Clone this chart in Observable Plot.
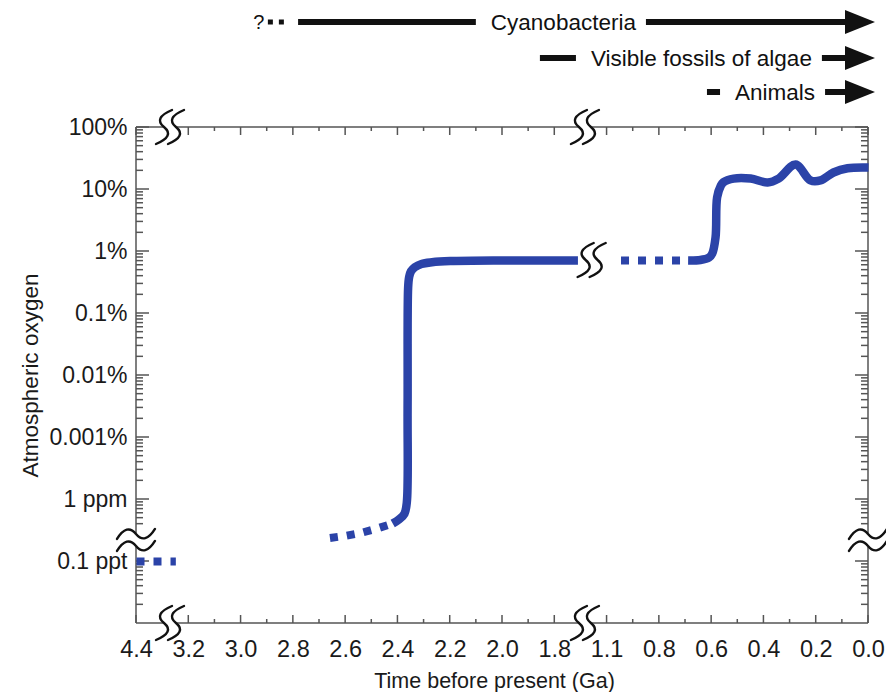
<!DOCTYPE html>
<html><head><meta charset="utf-8">
<script src="https://cdn.jsdelivr.net/npm/d3@7"></script>
<script src="https://cdn.jsdelivr.net/npm/@observablehq/plot@0.6"></script>
<style>body{margin:0;background:#fff;} #chart svg{display:block}</style>
</head><body><div id="chart"></div>
<script>
// ---------- data ----------
const xTickValues = [4.4, 3.2, 3.0, 2.8, 2.6, 2.4, 2.2, 2.0, 1.8, 1.1, 0.8, 0.6, 0.4, 0.2, 0.0];
const xMinorValues = [3.1, 2.9, 2.7, 2.5, 2.3, 2.1, 1.9, 0.95, 0.7, 0.5, 0.3, 0.1];
const yTickValues = [1, 0.1, 0.01, 1e-3, 1e-4, 1e-5, 1e-6, 1e-13];
const yTickLabels = ["100%", "10%", "1%", "0.1%", "0.01%", "0.001%", "1 ppm", "0.1 ppt"];

// broken axes
const xAnchorTime = [4.4, 4.25, 3.2, 1.8, 1.1, 0.8, 0];
const xAnchorStep = [0, 0.75, 1, 8, 9, 10, 14];
const xBreaks = [4.27, 1.39];
const curveBreak = {t: 1.3, o2: 7.16e-3};
const yAnchorO2 = [1, Math.pow(10, -6.8), Math.pow(10, -12.8), 1e-14];
const yAnchorDecade = [0, 6.8, 6.8, 8];
const yBreak = Math.pow(10, -6.66);

// atmospheric O2 history (fraction of atmosphere), time in Ga
const hadeanTime = [4.4, 4.24];
const hadeanO2 = [1e-13, 1e-13];
const archeanTime = [2.66, 2.6, 2.54, 2.48, 2.42];
const archeanO2 = [2.4e-7, 2.6e-7, 2.9e-7, 3.4e-7, 4.1e-7];
const goeTime = [2.42, 2.395, 2.375, 2.366, 2.363, 2.361, 2.357, 2.35, 2.335, 2.31, 2.27, 2.2, 2.0, 1.8, 1.49];
const goeO2 = [4.1e-7, 4.8e-7, 5.9e-7, 9e-7, 3e-5, 2.6e-3, 3.9e-3, 4.8e-3, 5.6e-3, 6.3e-3, 6.7e-3, 7.0e-3, 7.16e-3, 7.16e-3, 7.16e-3];
const midTime = [1.02, 0.69];
const midO2 = [7.16e-3, 7.16e-3];
const noeTime = [0.69, 0.643, 0.61, 0.598, 0.585, 0.579, 0.565, 0.555, 0.516, 0.451, 0.386, 0.344, 0.279, 0.222, 0.184, 0.134, 0.08, 0];
const noeO2 = [7.16e-3, 7.3e-3, 8e-3, 9.2e-3, 0.017, 0.075, 0.115, 0.131, 0.15, 0.15, 0.13, 0.15, 0.253, 0.14, 0.14, 0.188, 0.22, 0.226];

// lineages shown above the chart
const lineageLabels = ["Cyanobacteria", "Visible fossils of algae", "Animals"];
const lineageFirst = [2.78, 1.855, 0.616];
const lineageBarEnd = [2.10, 1.51, 0.566];
const lineageQuery = 2.93; // "?" earlier possible origin of cyanobacteria

const xTitle = "Time before present (Ga)";
const yTitle = "Atmospheric oxygen";

// ---------- layout ----------
const W = 886, H = 692, ML = 136, MR = 18, MT = 127, MB = 69;
const BLUE = "#2b43a8";
const FONT = "'Liberation Sans', Arial, Helvetica, sans-serif";
const stepPx = (W - ML - MR) / 14;
const decPx = (H - MT - MB) / 8;

const zip = (ts, vs) => ts.map((t, i) => ({t, o2: vs[i]}));
const yLabelOf = new Map(yTickValues.map((v, i) => [v, yTickLabels[i]]));

const yMinor = [];
for (let d = -6; d <= -1; d++) for (let k = 2; k <= 9; k++) yMinor.push(k * Math.pow(10, d));
for (let k = 4; k <= 9; k++) yMinor.push(k * 1e-7);
for (let k = 2; k <= 9; k++) yMinor.push(k * 1e-14);

const measure = (() => {
  const ctx = document.createElement("canvas").getContext("2d");
  return (s, size) => { ctx.font = `${size}px ${FONT}`; return ctx.measureText(s).width; };
})();

function decor(index, scales, values, dims) {
  const {x, y} = scales;
  const L = dims.marginLeft, R = dims.width - dims.marginRight;
  const T = dims.marginTop, B = dims.height - dims.marginBottom;
  const g = d3.create("svg:g");
  const fr = g.append("g").attr("stroke", "#555").attr("stroke-width", 1.5).attr("fill", "none");
  const line = (sel, x1, y1, x2, y2) => sel.append("line").attr("x1", x1).attr("y1", y1).attr("x2", x2).attr("y2", y2);
  const xb = xBreaks.map(x), yb = y(yBreak), gap = 7;
  for (const yy of [T, B]) {
    [[L, xb[0] - gap], [xb[0] + gap, xb[1] - gap], [xb[1] + gap, R]].forEach(([a, b]) => line(fr, a, yy, b, yy));
  }
  for (const xx of [L, R]) {
    [[T, yb - gap], [yb + gap, B]].forEach(([a, b]) => line(fr, xx, a, xx, b));
  }
  // ticks (inward)
  for (const v of xTickValues) { const px = x(v); line(fr, px, B, px, B - 8); line(fr, px, T, px, T + 8); }
  for (const v of xMinorValues) { const px = x(v); line(fr, px, B, px, B - 4); line(fr, px, T, px, T + 4); }
  for (const v of yTickValues) { const py = y(v); line(fr, L, py, L + 13, py); line(fr, R, py, R - 13, py); }
  for (const v of yMinor) { const py = y(v); line(fr, L, py, L + 7, py); line(fr, R, py, R - 7, py); }
  // break symbols
  const br = g.append("g").attr("stroke", "#111").attr("stroke-width", 2.4).attr("fill", "none").attr("stroke-linecap", "round");
  const sPath = (cx, cy) => `M${cx + 8},${cy - 17} Q${cx - 11},${cy - 9} ${cx},${cy} Q${cx + 11},${cy + 9} ${cx - 8},${cy + 17}`;
  const wPath = (cx, cy) => `M${cx - 19},${cy + 5} Q${cx - 9},${cy - 11} ${cx},${cy} Q${cx + 9},${cy + 11} ${cx + 19},${cy - 5}`;
  for (const px of xb) for (const yy of [T, B]) for (const o of [-6, 6]) br.append("path").attr("d", sPath(px + o, yy));
  for (const xx of [L, R]) for (const o of [-6, 6]) br.append("path").attr("d", wPath(xx, yb + o));
  const cbx = x(curveBreak.t), cby = y(curveBreak.o2);
  for (const o of [-6, 6]) br.append("path").attr("d", sPath(cbx + o, cby));
  // lineage arrows above the chart
  const an = g.append("g").attr("text-anchor", "start");
  const rowsY = [T - 105, T - 69, T - 35];
  const tip = x(0) + 7, fs = 22.5;
  lineageLabels.forEach((lab, i) => {
    const yy = rowsY[i];
    const x0 = x(lineageFirst[i]), x1 = x(lineageBarEnd[i]);
    an.append("line").attr("x1", x0).attr("x2", x1).attr("y1", yy).attr("y2", yy)
      .attr("stroke", "#111").attr("stroke-width", 6);
    const tx = x1 + 15, tw = measure(lab, fs);
    an.append("text").attr("x", tx).attr("y", yy).attr("dy", "0.35em").attr("font-size", fs)
      .attr("text-anchor", "start").attr("fill", "#111").text(lab);
    an.append("line").attr("x1", tx + tw + 10).attr("x2", tip - 26).attr("y1", yy).attr("y2", yy)
      .attr("stroke", "#111").attr("stroke-width", 6);
    an.append("path").attr("d", `M${tip},${yy} L${tip - 30},${yy - 12} L${tip - 30},${yy + 12} Z`).attr("fill", "#111");
    if (i === 0) {
      const qx = x(lineageQuery);
      an.append("text").attr("x", qx).attr("y", yy).attr("dy", "0.35em").attr("text-anchor", "middle")
        .attr("font-size", 20).attr("fill", "#111").text("?");
      an.append("line").attr("x1", qx + 9).attr("x2", x0 - 10).attr("y1", yy).attr("y2", yy)
        .attr("stroke", "#111").attr("stroke-width", 5).attr("stroke-dasharray", "5,6");
    }
  });
  return g.node();
}

const dotted = {x: "t", y: "o2", stroke: BLUE, strokeWidth: 8, strokeDasharray: "8,9", strokeLinecap: "butt"};
const solid = {x: "t", y: "o2", stroke: BLUE, strokeWidth: 8.5, curve: "catmull-rom", strokeLinecap: "butt", strokeLinejoin: "round"};

const chart = Plot.plot({
  width: W, height: H, marginLeft: ML, marginRight: MR, marginTop: MT, marginBottom: MB,
  style: {fontFamily: FONT, fontSize: "22px", color: "#1a1a1a", background: "#fff"},
  x: {type: "linear", domain: xAnchorTime, range: xAnchorStep.map(s => ML + s * stepPx)},
  y: {type: "log", domain: yAnchorO2, range: yAnchorDecade.map(d => MT + d * decPx)},
  marks: [
    decor,
    Plot.line(zip(hadeanTime, hadeanO2), dotted),
    Plot.line(zip(archeanTime, archeanO2), dotted),
    Plot.line(zip(goeTime, goeO2), solid),
    Plot.line(zip(midTime, midO2), dotted),
    Plot.line(zip(noeTime, noeO2), solid),
    Plot.axisX({ticks: xTickValues, tickFormat: d => d.toFixed(1), tickSize: 0, tickPadding: 17, fontSize: 23.5, label: null}),
    Plot.axisY({ticks: yTickValues, tickFormat: d => yLabelOf.get(d), tickSize: 0, tickPadding: 9, fontSize: 23, label: null}),
    Plot.text([xTitle], {text: d => d, frameAnchor: "bottom", dy: 58, dx: -8, fontSize: 21.5, lineAnchor: "middle", textAnchor: "middle"}),
    Plot.text([yTitle], {text: d => d, frameAnchor: "left", dx: -106, rotate: -90, fontSize: 22.5, textAnchor: "middle", lineAnchor: "middle"})
  ]
});
document.getElementById("chart").append(chart);
</script>
</body></html>
